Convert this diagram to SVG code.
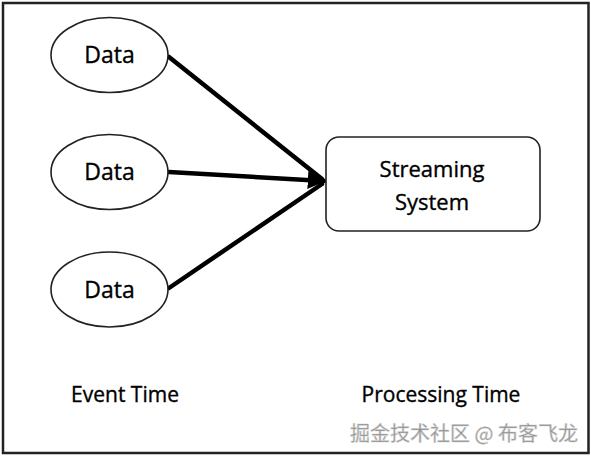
<svg xmlns="http://www.w3.org/2000/svg" width="591" height="456" viewBox="0 0 591 456">
<style>
.node ellipse, .node rect { fill: #fff; stroke: #222; stroke-width: 1.6; }
.lbl { font-family: "Open Sans", "Liberation Sans", sans-serif; fill: #000; stroke: #000; stroke-width: 0.35; text-anchor: middle; }
.conn line { stroke: #000; stroke-width: 4.5; stroke-linecap: round; }
.wm { font-family: "Noto Sans CJK SC", "Noto Sans", sans-serif; font-size: 20px; fill: #8a8a8a; stroke: #cfcfcf; stroke-width: 0.6; }
</style>
<defs>
<marker id="ah" viewBox="0 0 10 10" refX="9" refY="5" markerWidth="4" markerHeight="4" orient="auto" markerUnits="strokeWidth">
<path d="M0,0 L10,5 L0,10 z" fill="#000"/>
</marker>
</defs>
<rect x="3" y="3" width="585.5" height="450" fill="#fff" stroke="#222" stroke-width="2.5"/>
<g class="conn">
<line x1="169" y1="57" x2="322" y2="179"/>
<line x1="169" y1="172" x2="324" y2="181" marker-end="url(#ah)"/>
<line x1="169" y1="288" x2="322" y2="184"/>
</g>
<g id="data1" class="node">
<ellipse cx="109.5" cy="55" rx="58.5" ry="37.5"/>
<text class="lbl" x="109.5" y="63" font-size="23">Data</text>
</g>
<g id="data2" class="node">
<ellipse cx="109.5" cy="172" rx="58.5" ry="37.5"/>
<text class="lbl" x="109.5" y="180" font-size="23">Data</text>
</g>
<g id="data3" class="node">
<ellipse cx="109.5" cy="289.5" rx="58.5" ry="37.5"/>
<text class="lbl" x="109.5" y="297.5" font-size="23">Data</text>
</g>
<g id="streaming" class="node">
<rect x="326" y="137" width="214" height="94" rx="13"/>
<text class="lbl" x="432" y="176.5" font-size="22">Streaming</text>
<text class="lbl" x="432" y="210" font-size="22">System</text>
</g>
<text class="lbl" x="125" y="401.5" font-size="21">Event Time</text>
<text class="lbl" x="441" y="401.5" font-size="21">Processing Time</text>
<text class="wm" x="350" y="441">掘金技术社区 @ 布客飞龙</text>
</svg>
